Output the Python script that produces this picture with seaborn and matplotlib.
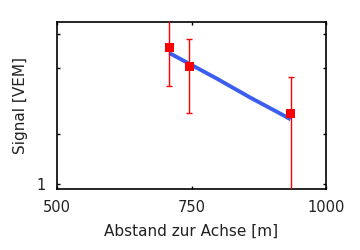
import matplotlib
matplotlib.use("Agg")
import matplotlib.pyplot as plt
import seaborn as sns
import pandas as pd
import numpy as np

# data points with error bars
dist = [709, 746, 934]
signal = [6.66, 5.09, 2.67]
err_low = [2.73, 2.39, 1.80]
err_high = [3.20, 2.45, 1.74]

# fitted curve
fit_x = [709, 746, 797, 859, 921, 934]
fit_y = [6.17, 5.32, 4.33, 3.33, 2.60, 2.46]

xticks = [500, 750, 1000]
yticks = [1, 2, 5, 8]
yticklabels = ["1", "", "", ""]

sns.set_theme(style="white")
plt.rcParams['font.family'] = ['DejaVu Sans']

fig = plt.figure(figsize=(3.6, 2.5), dpi=100)
ax = fig.add_axes([0.158, 0.243, 0.748, 0.669])

fit_df = pd.DataFrame({"x": fit_x, "y": fit_y})
sns.lineplot(data=fit_df, x="x", y="y", ax=ax, color="#3b5ef0", linewidth=2.8,
             solid_capstyle="butt", zorder=2)

ax.errorbar(dist, signal, yerr=[err_low, err_high], fmt="none", ecolor="#ff0000",
            elinewidth=1.0, capsize=2.0, capthick=1.0, zorder=3)
pts = pd.DataFrame({"x": dist, "y": signal})
sns.scatterplot(data=pts, x="x", y="y", ax=ax, marker="s", s=42, color="#ff0000",
                edgecolor="none", zorder=4)

ax.set_yscale("log")
ax.set_xlim(500, 1000)
ax.set_ylim(0.933, 9.5)
ax.set_xticks(xticks)
ax.set_xticklabels([str(t) for t in xticks])
ax.set_yticks(yticks)
ax.set_yticklabels(yticklabels)
ax.minorticks_off()

ax.tick_params(axis="both", which="major", direction="in", length=2.5, width=1,
               color="black", top=True, right=True, bottom=True, left=True,
               labelsize=10.5, pad=8, labelcolor="#222222")
for s in ax.spines.values():
    s.set_visible(True)
    s.set_color("black")
    s.set_linewidth(1.2)

ax.set_xlabel("Abstand zur Achse [m]", fontsize=11, color="#222222", labelpad=6)
ax.set_ylabel("Signal [VEM]", fontsize=11, color="#222222", labelpad=6)

fig.savefig("out.png", dpi=100)
